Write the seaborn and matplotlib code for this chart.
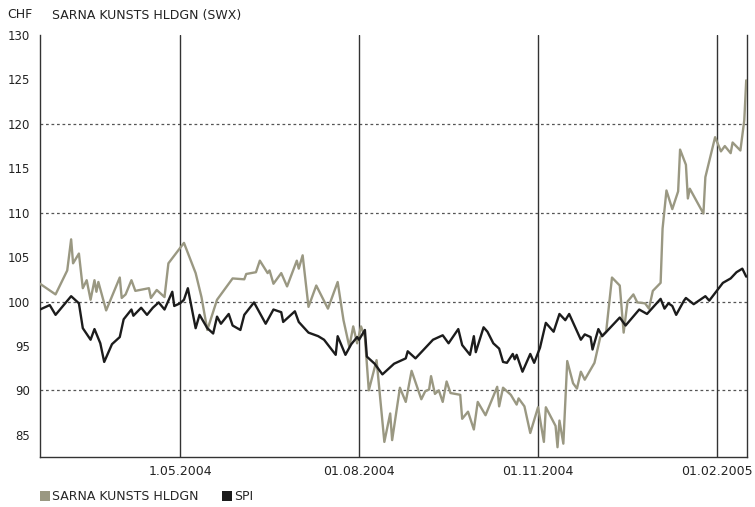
import numpy as np
import pandas as pd
import matplotlib
matplotlib.use("Agg")
import matplotlib.pyplot as plt
from matplotlib.patches import Patch
import seaborn as sns

# ---- data (day offsets from 2004-05-01, values in CHF) ----
base_date = "2004-05-01"

sarna_days = [-72, -64, -58, -56, -55, -52, -50, -48, -46, -44, -43, -42, -38, -31, -30, -28,
              -25, -23, -16, -15, -12, -8, -6, 2, 8, 11, 14, 19, 27, 33, 34, 39, 41, 45, 46,
              48, 52, 55, 60, 61, 63, 66, 70, 76, 81, 84, 87, 89, 91, 93, 95, 97, 101, 105,
              108, 109, 113, 116, 119, 124, 126, 128, 129, 131, 133, 135, 137, 139, 144, 145,
              148, 151, 153, 157, 163, 164, 166, 170, 173, 174, 177, 180, 184, 187, 188, 193,
              194, 195, 197, 199, 202, 204, 206, 208, 213, 216, 219, 222, 226, 228, 230, 233,
              235, 239, 241, 243, 247, 248, 250, 253, 256, 257, 260, 261, 262, 269, 270, 275,
              278, 280, 283, 284, 288, 290, 291]
sarna_vals = [102.0, 100.8, 103.5, 107.0, 104.3, 105.4, 101.5, 102.4, 100.2, 102.4, 101.1, 102.2,
              99.0, 102.7, 100.4, 100.8, 102.4, 101.2, 101.5, 100.4, 101.3, 100.5, 104.3, 106.6,
              103.2, 100.5, 96.8, 100.2, 102.6, 102.5, 103.1, 103.3, 104.6, 103.2, 103.5, 102.0,
              103.2, 101.7, 104.6, 103.7, 105.2, 99.4, 101.8, 99.2, 102.2, 97.9, 94.9, 97.2,
              95.3, 97.2, 96.0, 90.0, 93.4, 84.2, 87.4, 84.4, 90.3, 88.7, 92.2, 89.0, 89.9, 90.1,
              91.6, 89.6, 90.0, 88.7, 91.0, 89.7, 89.5, 86.8, 87.6, 85.6, 88.7, 87.2, 90.4, 88.2,
              90.3, 89.5, 88.4, 89.1, 88.2, 85.2, 88.1, 84.2, 88.1, 86.0, 83.6, 86.6, 84.0, 93.3,
              90.8, 90.2, 92.1, 91.2, 93.1, 96.0, 96.6, 102.7, 101.8, 96.5, 100.0, 100.8, 99.9,
              99.8, 99.2, 101.2, 102.1, 108.2, 112.5, 110.4, 112.4, 117.1, 115.4, 111.6, 112.7,
              109.9, 114.0, 118.5, 116.9, 117.5, 116.7, 117.9, 117.0, 120.4, 124.9]

spi_days = [-72, -67, -64, -56, -52, -50, -46, -44, -41, -39, -35, -31, -29, -25, -24, -20,
            -17, -14, -11, -8, -4, -3, 0, 2, 4, 8, 10, 14, 17, 19, 21, 25, 27, 31, 33, 38, 44,
            48, 52, 53, 59, 61, 66, 71, 74, 80, 81, 85, 88, 91, 92, 95, 96, 100, 104, 110, 116,
            117, 121, 130, 135, 138, 143, 145, 149, 151, 152, 156, 158, 161, 164, 166, 168,
            171, 172, 173, 176, 180, 182, 185, 188, 192, 195, 198, 200, 206, 208, 211, 212,
            215, 217, 226, 229, 236, 240, 247, 249, 251, 253, 255, 259, 260, 264, 270, 272,
            279, 283, 286, 289, 291]
spi_vals = [99.1, 99.6, 98.5, 100.6, 99.8, 97.0, 95.7, 96.9, 95.3, 93.2, 95.2, 96.0, 98.0, 99.1,
            98.4, 99.3, 98.5, 99.3, 99.9, 99.1, 101.1, 99.5, 99.8, 100.2, 101.5, 97.0, 98.5,
            97.0, 96.4, 98.3, 97.5, 98.6, 97.3, 96.8, 98.5, 99.9, 97.5, 99.1, 98.8, 97.7, 98.9,
            97.7, 96.5, 96.1, 95.7, 94.0, 96.1, 94.0, 95.2, 96.0, 95.7, 96.8, 93.8, 93.0, 91.8,
            93.0, 93.6, 94.4, 93.6, 95.7, 96.2, 95.3, 96.9, 95.1, 94.0, 96.1, 94.3, 97.1, 96.6,
            95.3, 94.7, 93.2, 93.1, 94.1, 93.5, 94.0, 92.1, 94.1, 93.1, 94.8, 97.6, 96.6, 98.6,
            97.9, 98.6, 95.7, 96.3, 96.0, 94.6, 96.9, 96.1, 98.2, 97.3, 99.1, 98.6, 100.3, 99.2,
            99.8, 99.5, 98.5, 100.1, 100.4, 99.7, 100.6, 100.1, 102.1, 102.6, 103.3, 103.7, 102.8]

series_names = ["SARNA KUNSTS HLDGN", "SPI"]
series_colors = ["#9a9882", "#1c1c1c"]
tick_dates = ["2004-05-01", "2004-08-01", "2004-11-01", "2005-02-01"]
tick_labels = ["1.05.2004", "01.08.2004", "01.11.2004", "01.02.2005"]
y_ticks = [85, 90, 95, 100, 105, 110, 115, 120, 125, 130]
y_grid = [90, 100, 110, 120]
currency = "CHF"
title = "SARNA KUNSTS HLDGN (SWX)"

# ---- build frame ----
b = pd.Timestamp(base_date)
df = pd.concat([
    pd.DataFrame({"date": b + pd.to_timedelta(sarna_days, unit="D"), "value": sarna_vals,
                  "series": series_names[0]}),
    pd.DataFrame({"date": b + pd.to_timedelta(spi_days, unit="D"), "value": spi_vals,
                  "series": series_names[1]}),
])

sns.set_style("white")
plt.rcParams["font.family"] = ["DejaVu Sans"]

fig = plt.figure(figsize=(7.55, 5.07), dpi=100)
ax = fig.add_axes([40 / 755, 1 - 457 / 507, 707 / 755, (457 - 35) / 507])

sns.lineplot(data=df, x="date", y="value", hue="series", hue_order=series_names,
             palette=series_colors, linewidth=1.7, ax=ax, legend=False, zorder=3)

ax.set_xlim(b - pd.Timedelta(days=72), b + pd.Timedelta(days=291.4))
ax.set_ylim(82.5, 130)

# y axis
ax.set_yticks(y_ticks)
ax.set_yticklabels([str(t) for t in y_ticks], fontsize=8.5, color="#222222")
for g in y_grid:
    ax.axhline(g, color="#555555", linewidth=0.9, linestyle=(0, (2.2, 2.2)), zorder=1)

# x axis
tds = [pd.Timestamp(t) for t in tick_dates]
ax.set_xticks(tds)
ax.set_xticklabels(tick_labels, fontsize=9, color="#222222")
for t in tds:
    ax.axvline(t, color="#333333", linewidth=1.0, zorder=2)

ax.tick_params(axis="both", direction="out", length=5, width=1, color="#333333", pad=2)
ax.tick_params(axis="x", pad=1)
ax.set_xlabel("")
ax.set_ylabel("")

for side in ["left", "bottom", "right"]:
    ax.spines[side].set_visible(True)
    ax.spines[side].set_color("#333333")
    ax.spines[side].set_linewidth(1.0)
ax.spines["top"].set_visible(False)

# header
fig.text(7 / 755, 1 - 15 / 507, currency, fontsize=9, va="center", ha="left", color="#222222")
fig.text(52 / 755, 1 - 15 / 507, title, fontsize=9, va="center", ha="left", color="#222222")

# legend
handles = [Patch(facecolor=c, edgecolor="none") for c in series_colors]
fig.legend(handles, series_names, loc="center left", bbox_to_anchor=(40 / 755, 1 - 497 / 507),
           ncol=2, frameon=False, fontsize=9, handlelength=0.8, handleheight=0.8,
           handletextpad=0.2, columnspacing=1.8, borderaxespad=0, borderpad=0)

fig.savefig("out.png", dpi=100)
